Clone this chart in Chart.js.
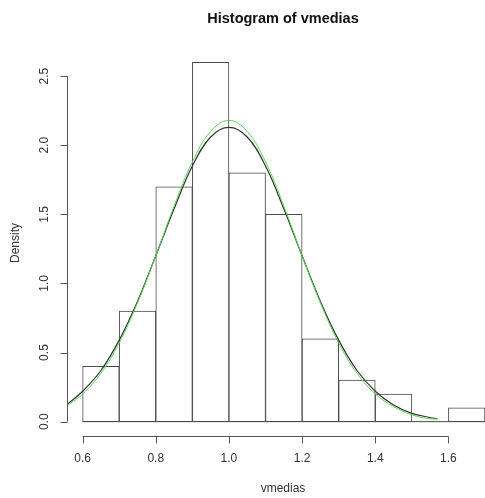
<!DOCTYPE html>
<html lang="en">
<head>
    <meta charset="UTF-8">
    <title>Histogram of vmedias</title>
    <script src="https://cdn.jsdelivr.net/npm/chart.js"></script>
    <style>
        html, body { margin: 0; padding: 0; background: #fff; }
        #wrap { width: 485px; height: 498px; }
    </style>
</head>
<body>
    <div id="wrap"><canvas id="hist"></canvas></div>

    <script>
        // Histogram bins (midpoints) and densities
        const binMids = [0.65, 0.75, 0.85, 0.95, 1.05, 1.15, 1.25, 1.35, 1.45, 1.55, 1.65];
        const densities = [0.4, 0.8, 1.7, 2.6, 1.8, 1.5, 0.6, 0.3, 0.2, 0.0, 0.1];
        const binWidth = 0.1;

        // Density curves
        const curveX = [0.56, 0.60, 0.65, 0.70, 0.75, 0.80, 0.85, 0.90, 0.95, 1.00,
                        1.05, 1.10, 1.15, 1.20, 1.25, 1.30, 1.35, 1.40, 1.45, 1.50, 1.55, 1.57];
        const blackCurve = [0.13, 0.22, 0.37, 0.59, 0.87, 1.20, 1.54, 1.85, 2.06, 2.13,
                            2.06, 1.85, 1.54, 1.20, 0.87, 0.59, 0.37, 0.22, 0.12, 0.06, 0.03, 0.02];
        const greenCurve = [0.12, 0.20, 0.35, 0.57, 0.86, 1.20, 1.56, 1.88, 2.10, 2.18,
                            2.10, 1.88, 1.56, 1.20, 0.86, 0.57, 0.35, 0.20, 0.11, 0.05, 0.02, 0.02];

        // Axis ticks
        const xTicks = [0.6, 0.8, 1.0, 1.2, 1.4, 1.6];
        const xTickLabels = ['0.6', '0.8', '1.0', '1.2', '1.4', '1.6'];
        const yTicks = [0, 0.5, 1.0, 1.5, 2.0, 2.5];
        const yTickLabels = ['0.0', '0.5', '1.0', '1.5', '2.0', '2.5'];

        const axisColor = '#555';
        const barLine = '#4a4a4a';
        const textColor = '#333';
        const fontFam = '"Liberation Sans", Arial, sans-serif';

        // baseline under the bars (R draws empty bins as a flat line)
        const baseLine = {
            id: 'baseLine',
            beforeDatasetsDraw(chart) {
                const ctx = chart.ctx;
                const xs = chart.scales.x, ys = chart.scales.y;
                const y0 = ys.getPixelForValue(0);
                ctx.save();
                ctx.strokeStyle = barLine;
                ctx.lineWidth = 1;
                ctx.beginPath();
                ctx.moveTo(xs.getPixelForValue(binMids[0] - binWidth / 2), y0);
                ctx.lineTo(xs.getPixelForValue(binMids[binMids.length - 1] + binWidth / 2), y0);
                ctx.stroke();
                ctx.restore();
            }
        };

        // R-style axes, title and labels
        const rAxes = {
            id: 'rAxes',
            afterDraw(chart) {
                const ctx = chart.ctx;
                const xs = chart.scales.x, ys = chart.scales.y;
                const area = chart.chartArea;
                ctx.save();
                ctx.strokeStyle = axisColor;
                ctx.lineWidth = 1;

                // x axis
                const xa = Math.round(area.bottom) + 0.5;
                ctx.beginPath();
                ctx.moveTo(xs.getPixelForValue(xTicks[0]), xa);
                ctx.lineTo(xs.getPixelForValue(xTicks[xTicks.length - 1]), xa);
                xTicks.forEach(v => {
                    const px = Math.round(xs.getPixelForValue(v)) + 0.5;
                    ctx.moveTo(px, xa);
                    ctx.lineTo(px, xa + 7);
                });
                ctx.stroke();

                ctx.fillStyle = textColor;
                ctx.font = '12px ' + fontFam;
                ctx.textAlign = 'center';
                ctx.textBaseline = 'middle';
                xTicks.forEach((v, i) => {
                    ctx.fillText(xTickLabels[i], xs.getPixelForValue(v), xa + 22);
                });

                // y axis
                const yaX = Math.round(area.left) - 0.5;
                ctx.beginPath();
                ctx.moveTo(yaX, ys.getPixelForValue(yTicks[0]));
                ctx.lineTo(yaX, ys.getPixelForValue(yTicks[yTicks.length - 1]));
                yTicks.forEach(v => {
                    const py = Math.round(ys.getPixelForValue(v)) + 0.5;
                    ctx.moveTo(yaX, py);
                    ctx.lineTo(yaX - 7, py);
                });
                ctx.stroke();

                yTicks.forEach((v, i) => {
                    ctx.save();
                    ctx.translate(yaX - 23, ys.getPixelForValue(v));
                    ctx.rotate(-Math.PI / 2);
                    ctx.fillText(yTickLabels[i], 0, 0);
                    ctx.restore();
                });

                // axis titles
                ctx.fillText('vmedias', 283, 489);
                ctx.save();
                ctx.translate(16, 243);
                ctx.rotate(-Math.PI / 2);
                ctx.fillText('Density', 0, 0);
                ctx.restore();

                // main title
                ctx.fillStyle = '#111';
                ctx.font = 'bold 14.5px ' + fontFam;
                ctx.fillText('Histogram of vmedias', 283, 19);
                ctx.restore();
            }
        };

        const ctx = document.getElementById('hist').getContext('2d');
        new Chart(ctx, {
            type: 'bar',
            data: {
                datasets: [
                    {
                        type: 'bar',
                        data: binMids.map((m, i) => ({ x: m, y: densities[i] })),
                        backgroundColor: '#fff',
                        borderColor: barLine,
                        borderWidth: 1,
                        borderSkipped: false,
                        barPercentage: 1,
                        categoryPercentage: 1,
                        order: 3
                    },
                    {
                        type: 'line',
                        data: curveX.map((x, i) => ({ x: x, y: blackCurve[i] })),
                        borderColor: '#333',
                        borderWidth: 1.2,
                        pointRadius: 0,
                        tension: 0.4,
                        fill: false,
                        order: 2
                    },
                    {
                        type: 'line',
                        data: curveX.map((x, i) => ({ x: x, y: greenCurve[i] })),
                        borderColor: '#5ad65a',
                        borderWidth: 1,
                        pointRadius: 0,
                        tension: 0.4,
                        fill: false,
                        order: 1
                    }
                ]
            },
            options: {
                responsive: true,
                maintainAspectRatio: false,
                animation: false,
                layout: { padding: { top: 48, bottom: 62, left: 68, right: 0 } },
                plugins: { legend: { display: false }, tooltip: { enabled: false } },
                scales: {
                    x: { type: 'linear', min: 0.56, max: 1.70, offset: false, display: false },
                    y: { min: -0.104, max: 2.704, display: false }
                }
            },
            plugins: [baseLine, rAxes]
        });
    </script>
</body>
</html>
